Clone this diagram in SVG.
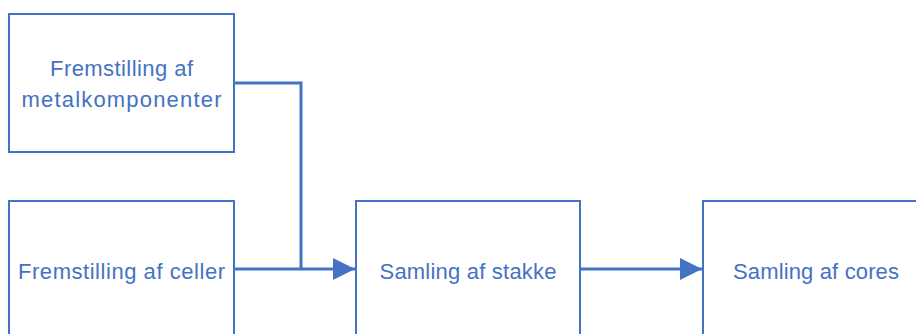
<svg xmlns="http://www.w3.org/2000/svg" width="916" height="334" viewBox="0 0 916 334">
<defs>
<style>
.box{fill:#fff;stroke:#4472C4;stroke-width:2}
.lbl{font-family:"Liberation Sans",Arial,sans-serif;font-size:22px;fill:#4472C4;text-anchor:middle}
.conn{fill:none;stroke:#4472C4;stroke-width:3}
</style>
<marker id="arr" viewBox="0 0 22 22" refX="22" refY="11" markerWidth="22" markerHeight="22" markerUnits="userSpaceOnUse" orient="auto">
<path d="M0,0 L22,11 L0,22 Z" fill="#4472C4"/>
</marker>
</defs>
<g id="node1">
<rect class="box" x="9" y="14" width="225" height="138"/>
<text class="lbl" x="121.5" y="76" textLength="143" lengthAdjust="spacing">Fremstilling af</text>
<text class="lbl" x="121.5" y="107" textLength="200" lengthAdjust="spacing">metalkomponenter</text>
</g>
<g id="node2">
<rect class="box" x="9" y="201" width="225" height="140"/>
<text class="lbl" x="121.5" y="279" textLength="207" lengthAdjust="spacing">Fremstilling af celler</text>
</g>
<g id="node3">
<rect class="box" x="356" y="201" width="224" height="140"/>
<text class="lbl" x="468" y="279" textLength="177" lengthAdjust="spacing">Samling af stakke</text>
</g>
<g id="node4">
<rect class="box" x="703" y="201" width="225" height="140"/>
<text class="lbl" x="816" y="279" textLength="166" lengthAdjust="spacing">Samling af cores</text>
</g>
<g id="connectors">
<polyline class="conn" points="234,83 301,83 301,269"/>
<line class="conn" x1="234" y1="269" x2="355" y2="269" marker-end="url(#arr)"/>
<line class="conn" x1="580" y1="269" x2="702" y2="269" marker-end="url(#arr)"/>
</g>
</svg>
